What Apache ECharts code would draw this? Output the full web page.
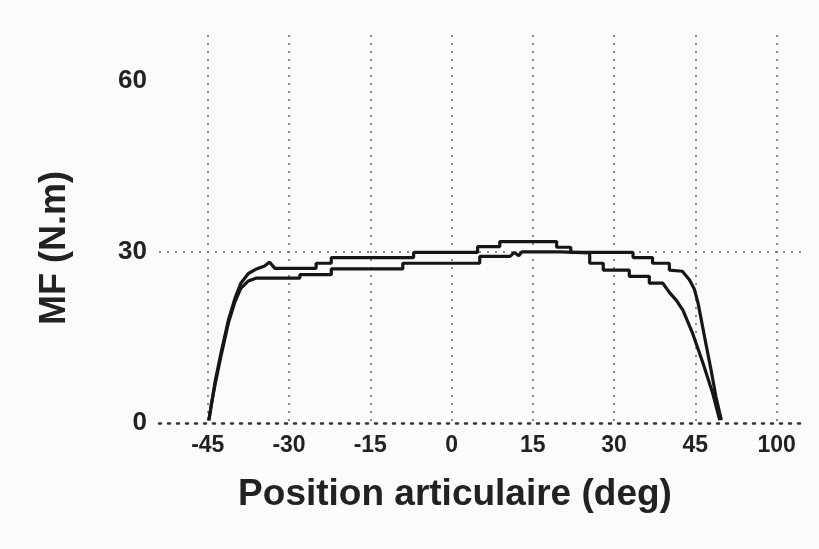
<!DOCTYPE html>
<html><head><meta charset="utf-8">
<script src="https://cdn.jsdelivr.net/npm/echarts@6/dist/echarts.min.js"></script>
<style>html,body{margin:0;padding:0;background:#fbfbfb}#c{width:819px;height:549px}</style>
</head><body><div id="c"></div>
<script>
// x tick positions (deg) and the labels printed under them (last label reads "100")
const xTicks = [-45, -30, -15, 0, 15, 30, 45, 60];
const xTickLabels = ['-45', '-30', '-15', '0', '15', '30', '45', '100'];
const yTicks = [0, 30, 60];
const yGridLines = [30];

// upper curve: [position (deg), MF (N.m)]
const curveUpper = [
  [-44.8, 0.5], [-44.2, 4], [-43.6, 7.5], [-42.5, 12.5], [-41.2, 18], [-40, 21.8],
  [-38.9, 24.5], [-37.5, 26.2], [-36, 27], [-34.5, 27.5], [-33.6, 28.2], [-32.6, 27.1],
  [-25, 27.1], [-25, 28.0], [-22.2, 28.0], [-22.2, 29.0], [-7, 29.0], [-7, 29.9],
  [4.8, 29.9], [4.8, 30.9], [8.9, 30.9], [8.9, 31.8], [19.4, 31.8], [19.4, 30.8],
  [22, 30.8], [22, 29.9], [33.5, 29.9], [33.5, 29.0], [37.1, 29.0], [37.1, 28.0],
  [40.2, 28.0], [40.2, 26.8], [42.6, 26.6], [43.9, 25.1], [44.8, 23.5], [45.5, 21],
  [46.7, 15.1], [47.9, 9.3], [48.8, 4.6], [49.8, 0.5]
];
// lower curve
const curveLower = [
  [-44.8, 0.5], [-44.2, 4], [-43.6, 7], [-42.5, 12], [-41.2, 17.5], [-40, 21.2],
  [-38.9, 23.6], [-37.5, 24.9], [-36, 25.4], [-28, 25.4], [-28, 26.0], [-22.2, 26.0],
  [-22.2, 27.0], [-9, 27.0], [-9, 28.0], [5.2, 28.0], [5.2, 29.2], [10.8, 29.2],
  [11.6, 29.9], [12.4, 29.3], [13, 30.0], [20, 30.0], [20, 29.8], [25.5, 29.8],
  [25.5, 28.0], [28, 28.0], [28, 26.8], [32.8, 26.8], [32.8, 25.7], [36.5, 25.7],
  [36.5, 24.5], [39, 24.5], [40.2, 22.9], [41.5, 21.5], [42.7, 19.8], [44.5, 15.7],
  [46.4, 10.5], [48.2, 5.2], [49.5, 0.5]
];

const chart = echarts.init(document.getElementById('c'), null, {renderer: 'canvas'});
const FONT = "'Liberation Sans', Arial, sans-serif";
const gridLine = {show: true, lineStyle: {color: '#666', width: 1.5, type: [2, 6]}};

chart.setOption({
  backgroundColor: '#fbfbfb',
  animation: false,
  grid: {left: 159, right: 18, top: 35, bottom: 126, containLabel: false},
  xAxis: {
    type: 'value', min: -54, max: 64.5,
    name: 'Position articulaire (deg)', nameLocation: 'middle', nameGap: 53,
    nameTextStyle: {fontFamily: FONT, fontWeight: 'bold', fontSize: 37, color: '#222', padding: [0, 50, 0, 0]},
    axisLine: {show: true, lineStyle: {color: '#333', width: 2.5, type: [2, 7]}},
    axisTick: {show: false, customValues: xTicks},
    axisLabel: {
      customValues: xTicks, margin: 11,
      fontFamily: FONT, fontWeight: 'bold', fontSize: 23, color: '#222',
      formatter: v => xTickLabels[xTicks.indexOf(v)] ?? ''
    },
    splitLine: gridLine
  },
  yAxis: {
    type: 'value', min: 0, max: 68,
    name: 'MF (N.m)', nameLocation: 'middle', nameGap: 86,
    nameTextStyle: {fontFamily: FONT, fontWeight: 'bold', fontSize: 36, color: '#222', padding: [0, 38, 0, 0]},
    axisLine: {show: false},
    axisTick: {show: false, customValues: yGridLines},
    axisLabel: {customValues: yTicks, margin: 12, fontFamily: FONT, fontWeight: 'bold', fontSize: 26, color: '#222'},
    splitLine: gridLine
  },
  series: [
    {type: 'line', data: curveUpper, showSymbol: false, symbol: 'none', lineStyle: {color: '#161616', width: 3.2}},
    {type: 'line', data: curveLower, showSymbol: false, symbol: 'none', lineStyle: {color: '#161616', width: 3.2}}
  ]
});
</script></body></html>
